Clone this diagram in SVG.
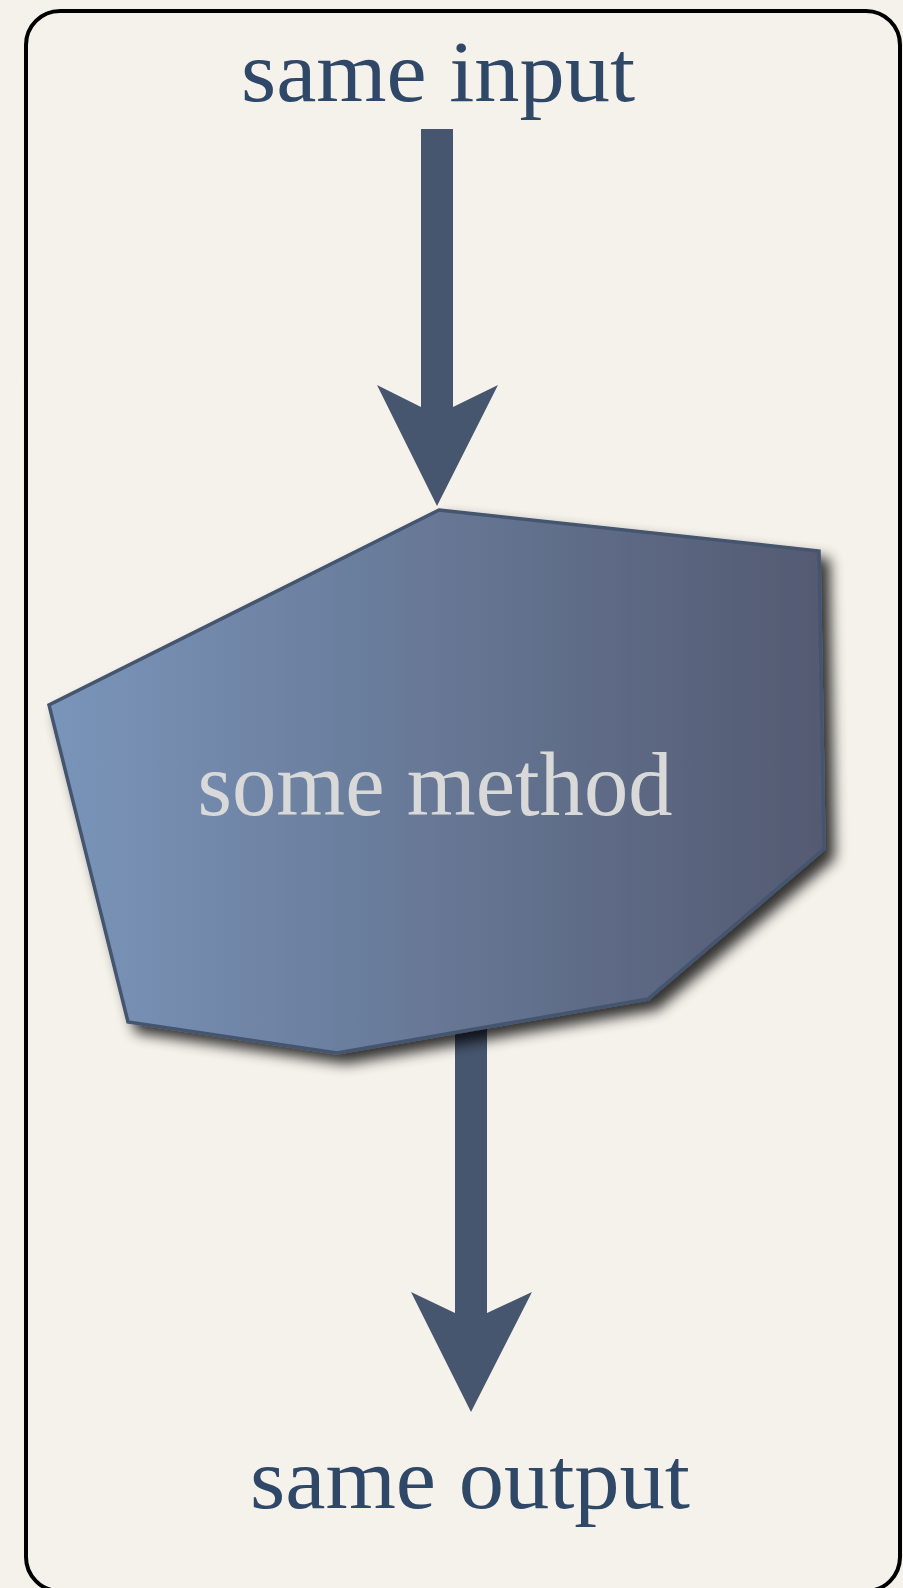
<svg xmlns="http://www.w3.org/2000/svg" width="903" height="1588" viewBox="0 0 903 1588">
<style>
.lbl{font-family:"Liberation Serif","DejaVu Serif",serif;font-size:86px;fill:#2f4868;text-anchor:middle}
.inner{font-family:"Liberation Serif","DejaVu Serif",serif;font-size:90px;fill:#d9d9d9;text-anchor:middle}
.arrow{fill:#47566f}
</style>
<defs>
<linearGradient id="g" x1="0" y1="0" x2="1" y2="0">
<stop offset="0" stop-color="#7a95ba"/>
<stop offset="1" stop-color="#535a71"/>
</linearGradient>
<filter id="sh" x="-10%" y="-10%" width="130%" height="130%">
<feGaussianBlur in="SourceAlpha" stdDeviation="7"/>
<feOffset dx="9" dy="9" result="b"/>
<feComponentTransfer><feFuncA type="linear" slope="0.8"/></feComponentTransfer>
<feMerge><feMergeNode/><feMergeNode in="SourceGraphic"/></feMerge>
</filter>
</defs>
<rect width="903" height="1588" fill="#f5f2eb"/>
<rect id="frame" x="26" y="11" width="874" height="1580" rx="34" fill="none" stroke="#000" stroke-width="4"/>
<g id="connectors">
<g id="arrow-in">
<rect class="arrow" x="421" y="129" width="32" height="280"/>
<polygon class="arrow" points="377,385 421,407 453,407 498,385 437,506"/>
</g>
<g id="arrow-out">
<rect class="arrow" x="455" y="1000" width="32" height="315"/>
<polygon class="arrow" points="411,1292 455,1313 487,1313 532,1292 471,1412"/>
</g>
</g>
<g id="node-input">
<text class="lbl" x="438" y="101" textLength="394" lengthAdjust="spacingAndGlyphs">same input</text>
</g>
<g id="node-method">
<polygon points="439,510 819,551 824,849 648,999 337,1053 128,1022 49,705" fill="url(#g)" stroke="#45556f" stroke-width="3.5" stroke-linejoin="miter" filter="url(#sh)"/>
<text class="inner" x="435" y="815" textLength="475" lengthAdjust="spacingAndGlyphs">some method</text>
</g>
<g id="node-output">
<text class="lbl" x="470" y="1508" textLength="440" lengthAdjust="spacingAndGlyphs">same output</text>
</g>
</svg>
